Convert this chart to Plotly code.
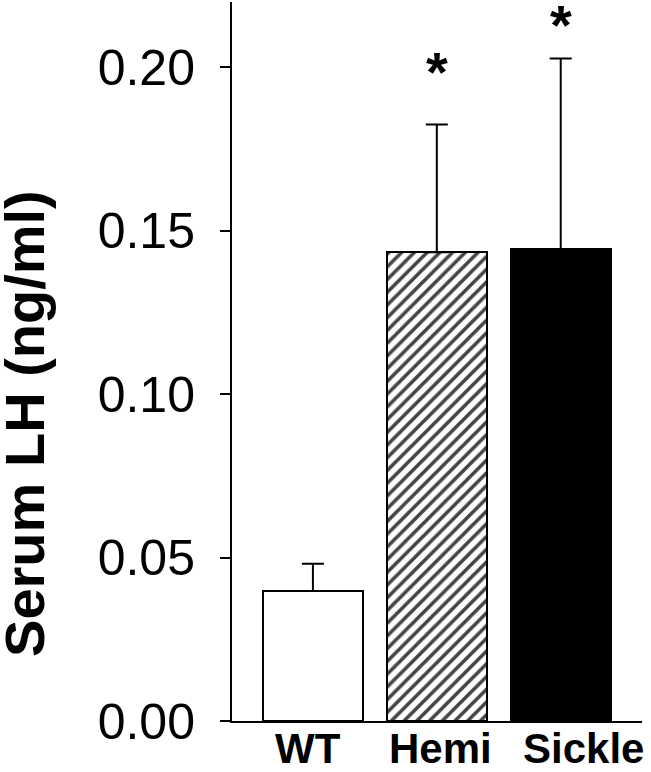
import plotly.graph_objects as go

groups = ["WT", "Hemi", "Sickle"]
lh_mean = [0.0398, 0.1434, 0.1443]
lh_err = [0.0083, 0.0391, 0.0584]
significant = [False, True, True]

fills = ["white", "white", "black"]
hatches = ["", "/", ""]
label_shift = [-5, 4, 23]
star_shift = [0, 53, 34]

FONT = "Liberation Sans, Arial, sans-serif"
x = list(range(len(groups)))

fig = go.Figure()
fig.add_trace(
    go.Bar(
        x=x,
        y=lh_mean,
        width=0.806,
        marker={
            "color": fills,
            "line": {"color": "black", "width": 2},
            "pattern": {
                "shape": hatches,
                "fgcolor": "black",
                "fgopacity": 1,
                "size": 9,
                "solidity": 0.4,
            },
        },
        error_y={
            "type": "data",
            "symmetric": False,
            "array": lh_err,
            "arrayminus": [0] * len(groups),
            "color": "black",
            "thickness": 2,
            "width": 11,
        },
        showlegend=False,
    )
)

# group labels under the axis
for i, g in enumerate(groups):
    fig.add_annotation(
        x=i, y=0, xref="x", yref="paper",
        text=f"<b>{g}</b>", showarrow=False,
        xanchor="center", yanchor="top", yshift=-3, xshift=label_shift[i],
        borderpad=0,
        font={"family": FONT, "size": 42, "color": "black"},
    )

# significance stars
for i, sig in enumerate(significant):
    if sig:
        fig.add_annotation(
            x=i, y=lh_mean[i] + lh_err[i], xref="x", yref="y",
            text="<b>*</b>", showarrow=False,
            xanchor="center", yanchor="middle", yshift=star_shift[i],
            font={"family": FONT, "size": 56, "color": "black"},
        )

fig.add_annotation(
    x=-0.505, y=0.4145, xref="paper", yref="paper",
    text="<b>Serum LH (ng/ml)</b>", textangle=-90, showarrow=False,
    xanchor="center", yanchor="middle", borderpad=0,
    font={"family": FONT, "size": 56, "color": "black"},
)

fig.update_xaxes(
    range=[-0.653, 2.656],
    showline=True, linecolor="black", linewidth=2,
    showticklabels=False, ticks="", showgrid=False, zeroline=False,
)
fig.update_yaxes(
    range=[0, 0.22],
    tickvals=[0, 0.05, 0.10, 0.15, 0.20],
    tickformat=".2f",
    showline=True, linecolor="black", linewidth=2,
    ticks="outside", ticklen=10, tickwidth=2, tickcolor="black",
    ticklabelstandoff=15,
    tickfont={"family": FONT, "size": 50, "color": "black"},
    showgrid=False, zeroline=False,
)
fig.update_layout(
    width=651,
    height=772,
    margin={"l": 232, "r": 9, "t": 2, "b": 51},
    paper_bgcolor="white",
    plot_bgcolor="white",
    bargap=0,
)

fig.write_html(
    "out.html",
    config={"displayModeBar": False},
    post_script="document.body.style.margin='0';",
)
